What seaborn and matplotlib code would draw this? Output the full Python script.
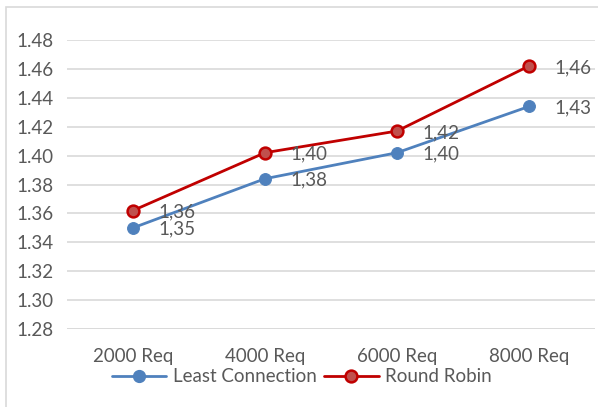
import matplotlib
matplotlib.use("Agg")
import matplotlib.pyplot as plt
from matplotlib.patches import Rectangle
from matplotlib.lines import Line2D
import seaborn as sns
import pandas as pd

# Response values per request load
categories = ["2000 Req", "4000 Req", "6000 Req", "8000 Req"]
least_connection = [1.350, 1.384, 1.402, 1.434]
round_robin = [1.362, 1.402, 1.417, 1.462]
y_ticks = [1.28, 1.30, 1.32, 1.34, 1.36, 1.38, 1.40, 1.42, 1.44, 1.46, 1.48]
series_names = ["Least Connection", "Round Robin"]

df = pd.DataFrame({
    "Request": categories * 2,
    "Value": least_connection + round_robin,
    "Series": [series_names[0]] * 4 + [series_names[1]] * 4,
})

sns.set_theme(style="white")
plt.rcParams["font.family"] = ["Lato", "DejaVu Sans"]

text_color = "#595959"
grid_color = "#D9D9D9"
blue = "#4F81BD"
red_line = "#C00000"
red_face = "#C0504D"
fs = 13.5

fig = plt.figure(figsize=(5.98, 4.07), dpi=100)
ax = fig.add_axes([67 / 598, 1 - 329 / 407, (595 - 67) / 598, (329 - 40) / 407])

sns.lineplot(data=df, x="Request", y="Value", hue="Series",
             palette={series_names[0]: blue, series_names[1]: red_line},
             marker="o", markersize=8.5, linewidth=2.0, legend=False,
             sort=False, ax=ax, zorder=3)

# marker styling per series
line_lc, line_rr = ax.lines[0], ax.lines[1]
line_lc.set_markerfacecolor(blue)
line_lc.set_markeredgecolor(blue)
line_rr.set_markerfacecolor(red_face)
line_rr.set_markeredgecolor(red_line)
line_rr.set_markeredgewidth(1.8)

# value labels
for vals in (least_connection, round_robin):
    for i, v in enumerate(vals):
        ax.annotate(f"{v:.2f}".replace(".", ","), xy=(i, v), xytext=(18, -1),
                    textcoords="offset points", ha="left", va="center",
                    fontsize=fs, color=text_color)

ax.set_xlim(-0.5, 3.5)
ax.set_ylim(1.28, 1.48)
ax.set_yticks(y_ticks)
ax.set_yticklabels([f"{t:.2f}" for t in y_ticks])
ax.yaxis.grid(True, color=grid_color, linewidth=1.2)
ax.xaxis.grid(False)
for s in ax.spines.values():
    s.set_visible(False)
ax.axhline(1.28, color=grid_color, linewidth=1.2, zorder=1)
ax.tick_params(axis="both", length=0, labelsize=fs, colors=text_color)
ax.tick_params(axis="y", pad=10)
ax.tick_params(axis="x", pad=14)
ax.set_xlabel("")
ax.set_ylabel("")

handles = [
    Line2D([], [], color=blue, marker="o", markersize=8.5, linewidth=2.0,
           markerfacecolor=blue, markeredgecolor=blue),
    Line2D([], [], color=red_line, marker="o", markersize=8.5, linewidth=2.0,
           markerfacecolor=red_face, markeredgecolor=red_line, markeredgewidth=1.8),
]
fig.legend(handles, series_names, loc="center", bbox_to_anchor=(0.505, 1 - 377 / 407),
           ncol=2, frameon=False, fontsize=fs, labelcolor=text_color,
           handlelength=2.9, handletextpad=0.35, columnspacing=0.4)

# outer chart frame
fig.patches.append(Rectangle((6 / 598, -0.05), 1.2, 1 - 7 / 407 + 0.05,
                             transform=fig.transFigure, fill=False,
                             edgecolor=grid_color, linewidth=1.2))

fig.savefig("out.png", dpi=100)
